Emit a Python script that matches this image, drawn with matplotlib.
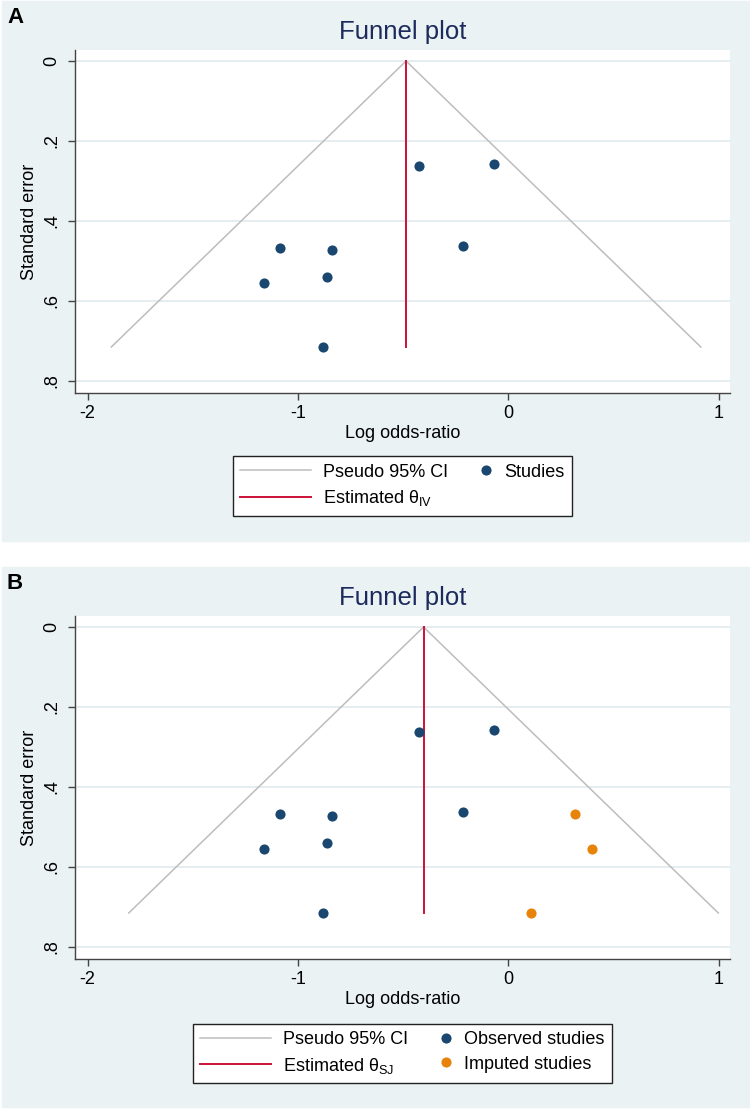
import matplotlib
matplotlib.use('Agg')
import matplotlib.pyplot as plt
from matplotlib.patches import Rectangle
from matplotlib.legend_handler import HandlerLine2D

plt.rcParams['font.family'] = ['Liberation Sans', 'DejaVu Sans']
plt.rcParams['mathtext.fontset'] = 'custom'
plt.rcParams['mathtext.rm'] = 'Liberation Sans'

# observed studies (log odds-ratio, standard error)
obs_lor = [-0.423, -0.069, -1.087, -0.837, -0.215, -1.163, -0.861, -0.880]
obs_se = [0.262, 0.257, 0.467, 0.472, 0.462, 0.555, 0.539, 0.715]

# trim-and-fill imputed studies (panel B)
imp_lor = [0.317, 0.397, 0.109]
imp_se = [0.467, 0.555, 0.715]

theta_iv = -0.486   # panel A pooled estimate
theta_sj = -0.403   # panel B pooled estimate
se_max = 0.715
z95 = 1.96

x_ticks = [-2, -1, 0, 1]
se_ticks = [0, 0.2, 0.4, 0.6, 0.8]
se_tick_labels = ['0', '.2', '.4', '.6', '.8']

BG = '#eaf2f3'
GRID = '#e3ecef'
NAVY = '#1a476f'
ORANGE = '#e8830a'
RED = '#cc1036'
GRAY = '#bdbdbd'
AXC = '#444444'

W, H = 750, 1111


class MarkerRight(HandlerLine2D):
    # put the single legend marker near the right end of its handle box
    def get_xdata(self, legend, xdescent, ydescent, width, height, fontsize):
        right = width - xdescent
        return [right - 0.6 * fontsize, right], None


def fx(px):
    return px / W


def fy(py):
    return 1 - py / H


def panel(fig, top, letter, theta, theta_label, imputed):
    # top: pixel row of the panel background top
    fig.add_artist(Rectangle((fx(1.5), fy(top + 541)), fx(747), 540 / H,
                             transform=fig.transFigure, color=BG, zorder=0))
    fig.text(fx(7), fy(top + 23), letter, fontsize=16, fontweight='bold',
             va='baseline', ha='left')
    fig.text(fx(402.5), fy(top + 39), 'Funnel plot', fontsize=18.5,
             color='#1c2a5c', ha='center', va='baseline')

    ax = fig.add_axes([fx(75), fy(top + 393), fx(655), 343 / H])
    ax.set_facecolor('white')

    ax.plot([theta - z95 * se_max, theta, theta + z95 * se_max],
            [se_max, 0, se_max], color=GRAY, lw=1.1, label='Pseudo 95% CI',
            zorder=2)
    ax.plot([theta, theta], [0, se_max], color=RED, lw=1.4,
            label='Estimated ' + theta_label, zorder=3)
    handles = ax.get_lines()[:2]
    obs_name = 'Observed studies' if imputed else 'Studies'
    h_obs, = ax.plot(obs_lor, obs_se, 'o', color=NAVY, ms=7.3, mew=0,
                     label=obs_name, zorder=4)
    handles = list(handles) + [h_obs]
    if imputed:
        h_imp, = ax.plot(imp_lor, imp_se, 'o', color=ORANGE, ms=7.3, mew=0,
                         label='Imputed studies', zorder=4)
        handles.append(h_imp)

    ax.set_xlim(-2.06, 1.054)
    ax.set_ylim(0.83, -0.0275)
    ax.set_xticks(x_ticks)
    ax.set_xticklabels([str(t) for t in x_ticks])
    ax.set_yticks(se_ticks)
    ax.set_yticklabels(se_tick_labels, rotation=90, va='center')
    ax.grid(axis='y', color=GRID, lw=1.3, zorder=0)
    ax.grid(axis='x', visible=False)
    ax.set_axisbelow(True)

    for s in ['top', 'right']:
        ax.spines[s].set_visible(False)
    for s in ['left', 'bottom']:
        ax.spines[s].set_color(AXC)
        ax.spines[s].set_linewidth(1.0)
    ax.tick_params(axis='both', colors=AXC, labelcolor='black', length=5,
                   width=1.0, labelsize=13)
    ax.tick_params(axis='x', pad=3.5)
    ax.tick_params(axis='y', pad=5.5)

    ax.set_xlabel('Log odds-ratio', fontsize=13)
    ax.xaxis.set_label_coords(0.5, (393 - 425) / 343)
    ax.xaxis.label.set_va('top')
    ax.set_ylabel('Standard error', fontsize=13)
    ax.yaxis.set_label_coords((38 - 75) / 655, 0.5)

    hmap = {h_obs: MarkerRight()}
    if imputed:
        hmap[h_imp] = MarkerRight()
    leg_cy = top + 486 if not imputed else top + 487.5
    leg = ax.legend(handles=handles, ncol=2, loc='center',
                    bbox_to_anchor=(fx(402.5), fy(leg_cy)),
                    bbox_transform=fig.transFigure, fontsize=13,
                    numpoints=1, handlelength=3.9, handletextpad=0.7,
                    columnspacing=-1.5, borderpad=0.4, labelspacing=0.42,
                    fancybox=False, framealpha=1, edgecolor='#222222',
                    handler_map=hmap)
    leg.get_frame().set_linewidth(1.0)
    return ax


fig = plt.figure(figsize=(7.5, 11.11), dpi=100)
fig.patch.set_facecolor('white')

panel(fig, 0, 'A', theta_iv, r'θ$_{\mathrm{IV}}$', imputed=False)
panel(fig, 566, 'B', theta_sj, r'θ$_{\mathrm{SJ}}$', imputed=True)

fig.savefig('out.png', dpi=100, facecolor='white')
